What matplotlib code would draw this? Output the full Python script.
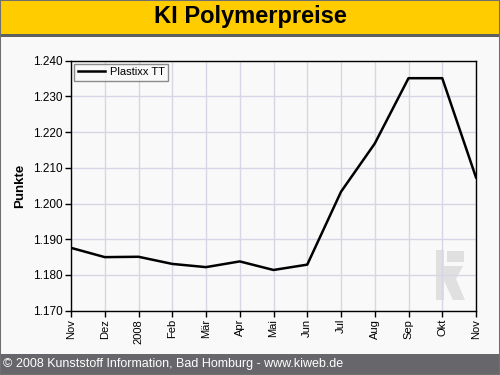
import matplotlib
matplotlib.use("Agg")
import matplotlib.pyplot as plt
from matplotlib.patches import Rectangle, Polygon

# data
months = ["Nov", "Dez", "2008", "Feb", "Mär", "Apr", "Mai", "Jun",
          "Jul", "Aug", "Sep", "Okt", "Nov"]
plastixx_tt = [1.1876, 1.1850, 1.1851, 1.1831, 1.1822, 1.1838, 1.1814,
               1.1829, 1.2033, 1.2168, 1.2351, 1.2351, 1.2073]
y_ticks = [1.170, 1.180, 1.190, 1.200, 1.210, 1.220, 1.230, 1.240]

plt.rcParams['font.family'] = ['Liberation Sans', 'DejaVu Sans']

fig = plt.figure(figsize=(5, 3.75), dpi=100, facecolor='#f9f9f9')

# title bar
fig.patches.append(Rectangle((0, 1 - 34 / 375), 1, 34 / 375, transform=fig.transFigure,
                             facecolor='#ffcc00', edgecolor='none', zorder=0))
fig.patches.append(Rectangle((0, 1 - 37 / 375), 1, 3 / 375, transform=fig.transFigure,
                             facecolor='#5f5f5f', edgecolor='none', zorder=0))
fig.text(0.5, 1 - 17 / 375, "KI Polymerpreise", ha='center', va='center',
         fontsize=17, fontweight='bold', color='black')

# footer bar
fig.patches.append(Rectangle((0, 0), 1, 21 / 375, transform=fig.transFigure,
                             facecolor='#67676b', edgecolor='none', zorder=0))
fig.text(3 / 500, 10.5 / 375, "© 2008 Kunststoff Information, Bad Homburg - www.kiweb.de",
         ha='left', va='center', fontsize=9, color='white')

# outer border
fig.patches.append(Rectangle((0, 0), 1, 1, transform=fig.transFigure, fill=False,
                             edgecolor='#707070', linewidth=1.5, zorder=5))

ax = fig.add_axes([71 / 500, 1 - 310.7 / 375, 405 / 500, 250 / 375])
ax.set_facecolor('#f9f9f9')

x = list(range(len(months)))
ax.plot(x, plastixx_tt, color='black', linewidth=1.8, label='Plastixx TT', zorder=3)

ax.set_xlim(0, len(months) - 1)
ax.set_ylim(1.170, 1.240)
ax.set_xticks(x)
ax.set_xticklabels(months, rotation=90, fontsize=8)
ax.set_yticks(y_ticks)
ax.set_yticklabels([f"{v:.3f}" for v in y_ticks], fontsize=8.5)
ax.tick_params(direction='out', length=4, width=1, color='black', pad=2)
ax.grid(True, color='#d6d6e6', linewidth=1)
ax.set_axisbelow(True)
for s in ax.spines.values():
    s.set_color('black')
    s.set_linewidth(1)

ax.set_ylabel("Punkte", fontsize=9.5, fontweight='bold', labelpad=5)

leg = ax.legend(loc='upper left', fontsize=8, frameon=True, fancybox=False,
                borderaxespad=0.3, handlelength=2.5, borderpad=0.3, handletextpad=0.4)
leg.get_frame().set_edgecolor('#707070')
leg.get_frame().set_facecolor('#f9f9f9')
leg.get_frame().set_linewidth(1)


# "ki" watermark logo, pixel positions converted to axes fractions
def px(xp, yp):
    return ((xp - 71) / 405, (310.7 - yp) / 250)


logo = [
    [px(436, 250), px(444, 250), px(444, 300), px(436, 300)],
    [px(447, 251), px(464, 251), px(464, 262), px(447, 262)],
    [px(444, 266), px(463, 266), px(456, 279), px(465, 300),
     px(453, 300), px(444, 281)],
]
for pts in logo:
    ax.add_patch(Polygon(pts, closed=True, transform=ax.transAxes,
                         facecolor='#e0e0e0', edgecolor='none', zorder=0.2))

fig.savefig("out.png", dpi=100, facecolor=fig.get_facecolor())
